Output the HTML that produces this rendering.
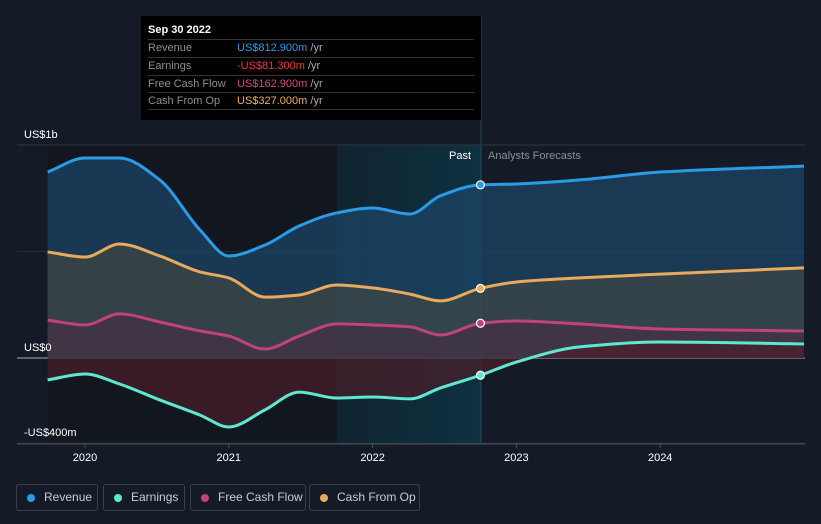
<!DOCTYPE html>
<html><head><meta charset="utf-8"><style>
body{margin:0;background:#151b26;font-family:"Liberation Sans",sans-serif;}
#wrap{position:relative;width:821px;height:524px;overflow:hidden;background:#151b26}
.tt{position:absolute;left:141px;top:16px;width:340px;height:104px;background:#000;color:#fff;font-size:11px}
.tt .row{position:absolute;left:7px;width:326px;border-top:1px solid #333;height:17px;line-height:17px;color:#8a8f98;white-space:nowrap}
.tt .row span{position:absolute;left:89px}
.leg{position:absolute;top:484px;height:27px;border:1px solid #3a404a;border-radius:3px;color:#c8ccd2;font-size:12px;line-height:25px;box-sizing:border-box;padding-left:27px;white-space:nowrap}
.leg i{position:absolute;left:10px;top:9px;width:8px;height:8px;border-radius:50%}
</style></head><body>
<div id="wrap">
<svg id="svg" width="821" height="524" style="position:absolute;left:0;top:0">
<defs>
<linearGradient id="band" x1="0" x2="1"><stop offset="0" stop-color="#0d2a38" stop-opacity="0.6"/><stop offset="1" stop-color="#0c3444" stop-opacity="0.9"/></linearGradient>
</defs>
<rect x="48" y="145" width="289" height="299" fill="#12171f"/>
<rect x="337" y="145" width="144" height="299" fill="url(#band)"/>
<line x1="481" y1="16" x2="481" y2="444" stroke="#1f4a5c" stroke-width="1"/>
<g id="grid"></g><g id="areas"></g><g id="lines"></g><g id="dots"></g><g id="axis"></g>
</svg>
<div class="tt">
<div style="position:absolute;left:7px;top:8px;font-weight:bold;font-size:11px">Sep 30 2022</div>
<div class="row" style="top:23px">Revenue<span style="color:#2a9be6">US$812.900m <b style="font-weight:normal;color:#aaa">/yr</b></span></div>
<div class="row" style="top:41px">Earnings<span style="color:#f0383e">-US$81.300m <b style="font-weight:normal;color:#aaa">/yr</b></span></div>
<div class="row" style="top:59px">Free Cash Flow<span style="color:#d6458c">US$162.900m <b style="font-weight:normal;color:#aaa">/yr</b></span></div>
<div class="row" style="top:76px">Cash From Op<span style="color:#f0b05a">US$327.000m <b style="font-weight:normal;color:#aaa">/yr</b></span></div>
<div style="position:absolute;left:7px;top:93px;width:326px;border-top:1px solid #333"></div>
</div>
<div style="position:absolute;left:449px;top:150px;color:#fff;font-size:11px">Past</div>
<div style="position:absolute;left:488px;top:150px;color:#8a8f98;font-size:11px">Analysts Forecasts</div>
<div class="leg" style="left:16px;width:82px"><i style="background:#2a9be6"></i>Revenue</div>
<div class="leg" style="left:103px;width:82px"><i style="background:#5de8d2"></i>Earnings</div>
<div class="leg" style="left:190px;width:116px"><i style="background:#c2417f"></i>Free Cash Flow</div>
<div class="leg" style="left:309px;width:111px"><i style="background:#e8aa5c"></i>Cash From Op</div>
</div>
<script>
const times=[2019.74,2020,2020.24,2020.52,2020.8,2021,2021.25,2021.49,2021.75,2022,2022.26,2022.47,2022.75,2023,2023.44,2024,2025];
const revenue=[873,939,939,836,601,479,530,620,681,704,676,761,813,817,836,873,901];
const earnings=[-103,-75,-122,-197,-268,-324,-244,-160,-188,-183,-192,-141,-81,-19,52,75,66];
const fcf=[178,155,207,169,127,103,42,103,160,155,146,108,163,174,160,136,127];
const cfo=[498,474,535,479,404,376,286,296,343,329,300,268,327,357,376,394,423];
const yTicks=[1000,0,-400];
const yTickLabels=["US$1b","US$0","-US$400m"];
const xTicks=[2020,2021,2022,2023,2024];
const NS="http://www.w3.org/2000/svg";
const X=t=>85+(t-2020)*143.8;
const Y=v=>358-v*0.213;
function mk(tag,attrs,parent){const e=document.createElementNS(NS,tag);for(const k in attrs)e.setAttribute(k,attrs[k]);document.getElementById(parent).appendChild(e);return e;}
function path(vals){
 const p=times.map((t,i)=>[X(t),Y(vals[i])]);const n=p.length;
 const dx=[],s=[];for(let i=0;i<n-1;i++){dx[i]=p[i+1][0]-p[i][0];s[i]=(p[i+1][1]-p[i][1])/dx[i];}
 const m=[s[0]];for(let i=1;i<n-1;i++){m[i]=(s[i-1]*s[i]<=0)?0:(dx[i-1]+dx[i])*3/((2*dx[i]+dx[i-1])/s[i-1]+(dx[i]+2*dx[i-1])/s[i]);}m[n-1]=s[n-2];
 let d="M"+p[0][0]+","+p[0][1];
 for(let i=0;i<n-1;i++){const h=dx[i]/3;d+=` C${p[i][0]+h},${p[i][1]+m[i]*h} ${p[i+1][0]-h},${p[i+1][1]-m[i+1]*h} ${p[i+1][0]},${p[i+1][1]}`;}
 return d;}
yTicks.forEach((v,i)=>{
 const g=mk("line",{x1:17,x2:805,y1:Y(v),y2:Y(v),stroke:v===0?"#aab":"#2e3542","stroke-width":1},"grid");
 
 
 const t=mk("text",{x:24,y:Y(v)-7,fill:"#fff","font-size":11,"font-family":"Liberation Sans"},"axis");t.textContent=yTickLabels[i];
 
 
});
mk("line",{x1:17,x2:805,y1:Y(500),y2:Y(500),stroke:"#252c38"},"grid");
const ax=mk("line",{x1:17,x2:805,y1:444,y2:444,stroke:"#4a505a"},"axis");


xTicks.forEach(t=>{
 mk("line",{x1:X(t),x2:X(t),y1:444,y2:448,stroke:"#4a505a"},"axis");
 const e=mk("text",{x:X(t),y:461,fill:"#fff","font-size":11,"text-anchor":"middle","font-family":"Liberation Sans"},"axis");e.textContent=t;
 
 
});
const series=[
 {v:revenue,c:"#2a9be6",f:"#1c4466",o:0.75,n:"revenue"},
 {v:cfo,c:"#e8aa5c",f:"#4a4a40",o:0.55,n:"cash-from-op"},
 {v:fcf,c:"#c2417f",f:"#4a2840",o:0.5,n:"free-cash-flow"},
 {v:earnings,c:"#5de8d2",f:"#4a1e28",o:0.7,n:"earnings"}];
series.forEach(s=>{
 const d=path(s.v);
 const a=mk("path",{d:d+` L${X(times[times.length-1])},${Y(0)} L${X(times[0])},${Y(0)} Z`,fill:s.f,"fill-opacity":s.o},"areas");
 
 
 const l=mk("path",{d:d,fill:"none",stroke:s.c,"stroke-width":3},"lines");
 
 
 const c=mk("circle",{cx:X(times[12]),cy:Y(s.v[12]),r:4,fill:s.c,stroke:"#fff","stroke-width":1.2},"dots");
 
 
});
</script>
</body></html>
